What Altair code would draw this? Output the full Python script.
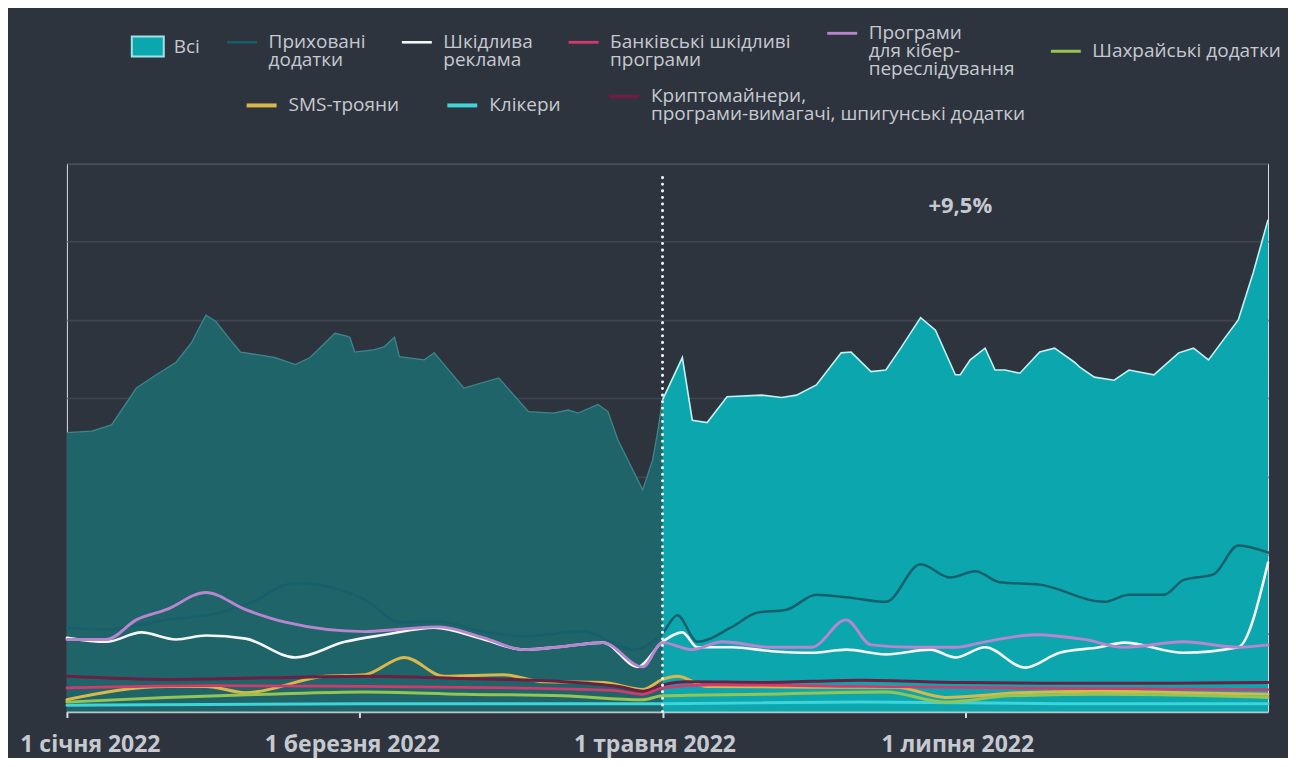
import json
import altair as alt
import pandas as pd

START = pd.Timestamp("2022-01-01")

# ---- "Всі" (all) area: days since 1 Jan 2022 and values (grid step = 1) ----
all_days_before = [0, 5, 9, 14, 18, 22, 25, 28, 30, 33, 35, 39, 42, 46, 49, 54, 56, 57, 58, 62,
                   64, 66, 67, 72, 74, 80, 87, 93, 98, 101, 103, 107, 109, 111, 116, 118, 119, 120]
all_vals_before = [3.56, 3.58, 3.66, 4.13, 4.30, 4.46, 4.70, 5.06, 4.98, 4.74, 4.59, 4.55, 4.52, 4.43,
                   4.52, 4.83, 4.80, 4.78, 4.59, 4.62, 4.66, 4.78, 4.53, 4.49, 4.58, 4.13, 4.26, 3.83,
                   3.81, 3.85, 3.81, 3.92, 3.83, 3.47, 2.83, 3.21, 3.56, 3.98]
all_days_after = [120, 124, 126, 129, 133, 140, 144, 147, 151, 156, 158, 162, 165, 168, 172, 175, 179,
                  180, 182, 185, 187, 189, 192, 196, 199, 203, 204, 207, 211, 214, 219, 224, 227, 230,
                  236, 239, 242]
all_vals_after = [3.98, 4.52, 3.72, 3.69, 4.02, 4.04, 4.01, 4.04, 4.17, 4.58, 4.59, 4.34, 4.36, 4.64,
                  5.03, 4.87, 4.30, 4.30, 4.49, 4.64, 4.36, 4.36, 4.32, 4.59, 4.64, 4.46, 4.40, 4.27,
                  4.23, 4.36, 4.30, 4.58, 4.64, 4.49, 5.00, 5.60, 6.28]

# ---- individual categories ----
hidden_days = [0, 8, 20, 30, 37, 46, 60, 67, 75, 84, 92, 104, 114, 120, 123, 127, 134, 139, 145, 151,
               157, 165, 172, 178, 183, 188, 196, 209, 214, 221, 225, 231, 236, 242]
hidden_vals = [1.07, 1.05, 1.17, 1.25, 1.39, 1.64, 1.43, 1.14, 1.15, 1.02, 0.96, 1.02, 0.79, 1.00, 1.23,
               0.89, 1.08, 1.26, 1.30, 1.49, 1.46, 1.40, 1.88, 1.71, 1.79, 1.65, 1.62, 1.40, 1.49, 1.49,
               1.68, 1.75, 2.12, 2.03]

ads_days = [0, 8, 15, 22, 28, 36, 46, 56, 64, 74, 84, 92, 100, 108, 115, 120, 124, 127, 134, 142, 150,
            157, 165, 174, 179, 185, 193, 200, 208, 213, 225, 236, 242]
ads_vals = [0.94, 0.89, 1.01, 0.92, 0.97, 0.93, 0.69, 0.89, 0.98, 1.07, 0.92, 0.79, 0.83, 0.88, 0.57,
            0.89, 1.01, 0.82, 0.82, 0.77, 0.75, 0.79, 0.73, 0.79, 0.69, 0.82, 0.56, 0.75, 0.82, 0.88,
            0.75, 0.82, 1.90]

stalk_days = [0, 8, 14, 20, 28, 36, 44, 60, 67, 75, 84, 92, 100, 108, 116, 120, 126, 132, 142, 150,
              157, 162, 170, 179, 185, 195, 205, 213, 225, 236, 242]
stalk_vals = [0.92, 0.92, 1.17, 1.30, 1.52, 1.30, 1.14, 1.02, 1.05, 1.08, 0.94, 0.79, 0.83, 0.88, 0.57,
              0.88, 0.79, 0.89, 0.82, 0.82, 1.17, 0.85, 0.82, 0.82, 0.89, 0.98, 0.92, 0.82, 0.89, 0.82,
              0.85]

bank_days = [0, 30, 60, 90, 110, 116, 120, 130, 160, 190, 220, 242]
bank_vals = [0.30, 0.33, 0.32, 0.30, 0.27, 0.22, 0.30, 0.34, 0.32, 0.30, 0.29, 0.28]

fraud_days = [0, 20, 40, 60, 80, 100, 116, 120, 140, 165, 177, 190, 210, 230, 242]
fraud_vals = [0.12, 0.18, 0.22, 0.25, 0.22, 0.20, 0.15, 0.20, 0.22, 0.25, 0.12, 0.20, 0.22, 0.20, 0.18]

sms_days = [0, 20, 28, 36, 52, 60, 68, 76, 88, 96, 108, 116, 120, 123, 129, 150, 167, 177, 192, 208,
            225, 242]
sms_vals = [0.15, 0.32, 0.32, 0.24, 0.45, 0.47, 0.69, 0.45, 0.47, 0.38, 0.37, 0.28, 0.41, 0.45, 0.32,
            0.31, 0.31, 0.18, 0.24, 0.26, 0.24, 0.22]

click_days = [0, 60, 120, 160, 200, 242]
click_vals = [0.08, 0.10, 0.10, 0.12, 0.10, 0.10]

crypto_days = [0, 20, 40, 60, 80, 100, 112, 116, 120, 125, 140, 160, 180, 200, 220, 242]
crypto_vals = [0.45, 0.41, 0.43, 0.45, 0.42, 0.38, 0.31, 0.26, 0.34, 0.38, 0.37, 0.40, 0.37, 0.36,
               0.36, 0.37]

# legend rows (names with line breaks as in the original legend)
row1_names = [
    "Приховані\nдодатки",
    "Шкідлива\nреклама",
    "Банківські шкідливі\nпрограми",
    "Програми\nдля кібер-\nпереслідування",
    "Шахрайські додатки",
]
row1_colors = ["#16606c", "#f4f6f7", "#d23a6e", "#b886cf", "#93c454"]
row1_widths = [2.5, 3, 3, 4, 3]
row2_names = [
    "SMS-трояни",
    "Клікери",
    "Криптомайнери,\nпрограми-вимагачі, шпигунські додатки",
]
row2_colors = ["#d8b84a", "#3fd3da", "#6b1f42"]

all_label = "Всі"
tick_days = [0, 59, 120, 181]
tick_labels = ["1 січня 2022", "1 березня 2022", "1 травня 2022", "1 липня 2022"]
split_day = 120
annotation_day = 180
annotation_value = 6.45
annotation_text = "+9,5%"
end_day = 242

BG = "#2e343e"
TXT = "#c6cad0"


def day_str(d):
    return (START + pd.Timedelta(days=d)).strftime("%Y-%m-%d")


def dt(d):
    t = START + pd.Timedelta(days=d)
    return alt.DateTime(year=t.year, month=t.month, date=t.day, utc=True)


def frame(items):
    rows = []
    for name, days, vals in items:
        for d, v in zip(days, vals):
            rows.append({"date": day_str(d), "value": v, "series": name})
    return pd.DataFrame(rows)


before_df = pd.DataFrame({"date": [day_str(d) for d in all_days_before], "value": all_vals_before})
after_df = pd.DataFrame({"date": [day_str(d) for d in all_days_after], "value": all_vals_after,
                         "series": all_label})

# drawing order: low lines first, prominent ones on top
row2_df = frame([
    (row2_names[1], click_days, click_vals),
    (row2_names[0], sms_days, sms_vals),
    (row2_names[2], crypto_days, crypto_vals),
])
row1_df = frame([
    (row1_names[4], fraud_days, fraud_vals),
    (row1_names[2], bank_days, bank_vals),
    (row1_names[0], hidden_days, hidden_vals),
    (row1_names[1], ads_days, ads_vals),
    (row1_names[3], stalk_days, stalk_vals),
])

month_labels = [""] * 12
for d, lab in zip(tick_days, tick_labels):
    month_labels[(START + pd.Timedelta(days=d)).month - 1] = lab

x_enc = alt.X(
    "date:T",
    scale=alt.Scale(type="utc", domain=[dt(0), dt(end_day)]),
    axis=alt.Axis(
        values=[dt(d) for d in tick_days],
        labelExpr=json.dumps(month_labels, ensure_ascii=False) + "[utcmonth(datum.value)]",
        title=None, grid=False,
        domainColor="#b9c6ca", domainWidth=2.5,
        tickColor="#d5dde0", tickWidth=2, tickSize=6,
        labelFont="Open Sans", labelFontSize=23, labelFontWeight="bold", labelColor=TXT,
        labelPadding=16, labelAlign="center",
        labelOffset={"condition": {"test": "datum.index == 0", "value": 23}, "value": -8},
    ),
)
y_enc = alt.Y(
    "value:Q",
    scale=alt.Scale(domain=[0, 7], nice=False, zero=True),
    axis=alt.Axis(values=[1, 2, 3, 4, 5, 6, 7], labels=False, ticks=False, domain=False,
                  title=None, grid=True, gridColor="#3f4651", gridWidth=1.6),
)

legend_common = dict(title=None, orient="none", labelFont="Open Sans", labelFontSize=19,
                     labelColor=TXT, labelLimit=700, padding=0)

area_before = alt.Chart(before_df).mark_area(color="#1f6469", opacity=1).encode(x=x_enc, y=y_enc)
edge_before = alt.Chart(before_df).mark_line(color="#3c878b", strokeWidth=1.3).encode(x=x_enc, y=y_enc)

area_after = alt.Chart(after_df).mark_area(opacity=1).encode(
    x=x_enc, y=y_enc,
    fill=alt.Fill("series:N", scale=alt.Scale(domain=[all_label], range=["#0ca6ae"]),
                  legend=alt.Legend(
                      legendX=70, legendY=-128,
                      symbolType="M-1.6,-1H1.6V1H-1.6Z", symbolSize=400,
                      symbolStrokeColor="#9fe3e6", symbolStrokeWidth=2, symbolOpacity=1,
                      labelOffset=15, **legend_common)),
)
edge_after = alt.Chart(after_df).mark_line(color="#bff2f3", strokeWidth=1.6).encode(x=x_enc, y=y_enc)

lines_row2 = alt.Chart(row2_df).mark_line(interpolate="monotone", strokeCap="round", strokeWidth=3).encode(
    x=x_enc, y=y_enc,
    color=alt.Color("series:N", sort=None,
                    scale=alt.Scale(domain=row2_names, range=row2_colors),
                    legend=alt.Legend(
                        legendX=178, legendY=-84, direction="horizontal",
                        columnPadding=40,
                        symbolType="stroke", symbolSize=900, symbolStrokeWidth=4,
                        labelOffset=10,
                        labelExpr="split(datum.label, '\\n')", **legend_common)),
)

lines_row1 = alt.Chart(row1_df).mark_line(interpolate="monotone", strokeCap="round").encode(
    x=x_enc, y=y_enc,
    stroke=alt.Stroke("series:N", sort=None,
                      scale=alt.Scale(domain=row1_names, range=row1_colors),
                      legend=alt.Legend(
                          legendX=159, legendY=-147, direction="horizontal",
                          columnPadding=30,
                          symbolType="stroke", symbolSize=900, symbolStrokeWidth=4,
                          labelOffset=10,
                          labelExpr="split(datum.label, '\\n')", **legend_common)),
    strokeWidth=alt.StrokeWidth("series:N", scale=alt.Scale(domain=row1_names, range=row1_widths),
                                legend=None),
)

rule_df = pd.DataFrame({"date": [day_str(split_day)], "y0": [0.0], "y1": [6.9]})
rule = alt.Chart(rule_df).mark_rule(color="#e9f6f7", strokeWidth=3, strokeDash=[0.1, 6.5],
                                    strokeCap="round").encode(
    x=x_enc, y=alt.Y("y0:Q", scale=alt.Scale(domain=[0, 7], nice=False)), y2="y1:Q")

ann_df = pd.DataFrame({"date": [day_str(annotation_day)], "value": [annotation_value],
                       "text": [annotation_text]})
ann = alt.Chart(ann_df).mark_text(font="Open Sans", fontSize=22, fontWeight="bold", color=TXT,
                                  align="center", baseline="middle").encode(x=x_enc, y=y_enc, text="text:N")

chart = alt.layer(area_before, area_after, edge_before, edge_after, lines_row2, lines_row1, rule, ann).properties(
    width=1203, height=549,
    padding={"left": 59, "top": 155, "right": 20, "bottom": 46},
    autosize=alt.AutoSizeParams(type="none"),
    background=BG,
).configure_view(stroke=None).configure(style={"guide-label": {"lineHeight": 18}})

chart.save("out.html", embed_options={"renderer": "svg", "actions": False})
